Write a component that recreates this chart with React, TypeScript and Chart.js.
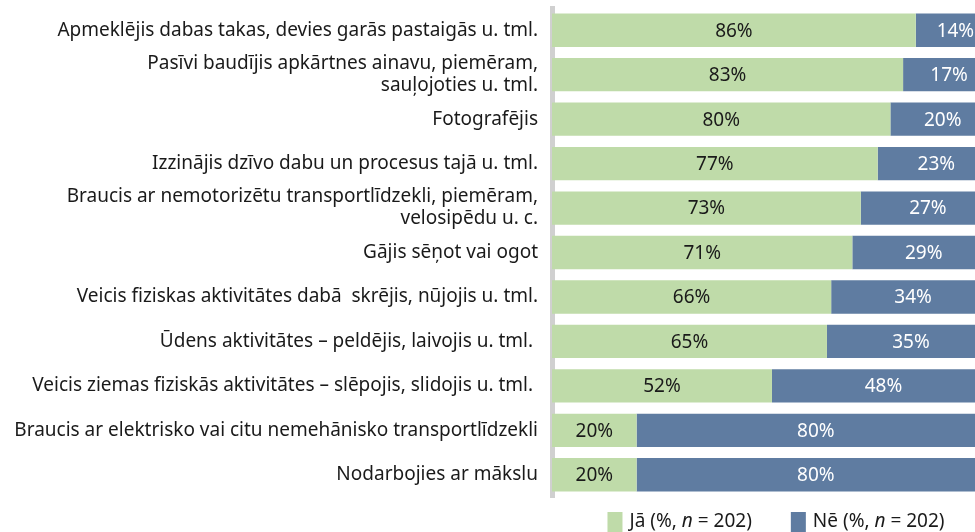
import React, { useEffect, useRef } from "react";
import { Chart, registerables } from "chart.js";

Chart.register(...registerables);

const categories: (string | string[])[] = [
  "Apmeklējis dabas takas, devies garās pastaigās u. tml.",
  ["Pasīvi baudījis apkārtnes ainavu, piemēram,", "sauļojoties u. tml."],
  "Fotografējis",
  "Izzinājis dzīvo dabu un procesus tajā u. tml.",
  ["Braucis ar nemotorizētu transportlīdzekli, piemēram,", "velosipēdu u. c."],
  "Gājis sēņot vai ogot",
  "Veicis fiziskas aktivitātes dabā  skrējis, nūjojis u. tml.",
  "Ūdens aktivitātes – peldējis, laivojis u. tml. ",
  "Veicis ziemas fiziskās aktivitātes – slēpojis, slidojis u. tml. ",
  "Braucis ar elektrisko vai citu nemehānisko transportlīdzekli",
  "Nodarbojies ar mākslu",
];

const jaValues = [86, 83, 80, 77, 73, 71, 66, 65, 52, 20, 20];
const neValues = [14, 17, 20, 23, 27, 29, 34, 35, 48, 80, 80];

const seriesNames = ["Jā", "Nē"];
const legendSuffix = " (%, ";
const legendN = "n";
const legendTail = " = 202)";

const GREEN = "#bfdba9";
const BLUE = "#5f7ca1";
const FONT = "'Noto Sans', sans-serif";

const valueLabels = {
  id: "valueLabels",
  afterDatasetsDraw(chart: any) {
    const ctx = chart.ctx;
    ctx.save();
    ctx.font = `19px ${FONT}`;
    ctx.textAlign = "center";
    ctx.textBaseline = "middle";
    chart.data.datasets.forEach((ds: any, di: number) => {
      const meta = chart.getDatasetMeta(di);
      meta.data.forEach((el: any, i: number) => {
        const v = ds.data[i];
        const cx = (el.x + el.base) / 2 + (di === 1 ? 10 : 0);
        ctx.fillStyle = di === 0 ? "#1a1a1a" : "#ffffff";
        ctx.fillText(`${v}%`, cx, el.y + 1);
      });
    });
    ctx.restore();
  },
};

const customLegend = {
  id: "customLegend",
  afterDraw(chart: any) {
    const ctx = chart.ctx;
    const colors = [GREEN, BLUE];
    const box = 15;
    const boxH = 20;
    const gapBoxText = 7;
    const gapItems = 39;
    const y = chart.height - 10;
    const normal = `19px ${FONT}`;
    const italic = `italic 19px ${FONT}`;
    ctx.save();
    ctx.textBaseline = "middle";
    ctx.textAlign = "left";
    const widths = seriesNames.map((name) => {
      ctx.font = normal;
      const a = ctx.measureText(name + legendSuffix).width;
      const c = ctx.measureText(legendTail).width;
      ctx.font = italic;
      const b = ctx.measureText(legendN).width;
      return { a, b, c, total: box + gapBoxText + a + b + c };
    });
    const totalW = widths.reduce((s, w) => s + w.total, 0) + gapItems;
    const center = chart.chartArea.left + 224;
    let x = center - totalW / 2;
    seriesNames.forEach((name, i) => {
      const w = widths[i];
      ctx.fillStyle = colors[i];
      ctx.fillRect(x, y - boxH / 2, box, boxH);
      let tx = x + box + gapBoxText;
      ctx.fillStyle = "#1a1a1a";
      ctx.font = normal;
      ctx.fillText(name + legendSuffix, tx, y);
      tx += w.a;
      ctx.font = italic;
      ctx.fillText(legendN, tx, y);
      tx += w.b;
      ctx.font = normal;
      ctx.fillText(legendTail, tx, y);
      x += w.total + gapItems;
    });
    ctx.restore();
  },
};

export default function App() {
  const ref = useRef<HTMLCanvasElement | null>(null);

  useEffect(() => {
    if (!ref.current) return;
    const chart = new Chart(ref.current, {
      type: "bar",
      data: {
        labels: categories,
        datasets: [
          {
            label: seriesNames[0],
            data: jaValues,
            backgroundColor: GREEN,
            barPercentage: 0.75,
            categoryPercentage: 1,
          },
          {
            label: seriesNames[1],
            data: neValues,
            backgroundColor: BLUE,
            barPercentage: 0.75,
            categoryPercentage: 1,
          },
        ],
      },
      options: {
        indexAxis: "y",
        animation: false,
        responsive: false,
        maintainAspectRatio: false,
        layout: { padding: { top: 8, bottom: 35, left: 0, right: 0 } },
        plugins: {
          legend: { display: false },
          tooltip: { enabled: false },
        },
        scales: {
          x: {
            stacked: true,
            min: 0,
            max: 100,
            display: false,
          },
          y: {
            stacked: true,
            grid: { display: false, drawTicks: false },
            border: { display: true, color: "#d0d0d0", width: 5 },
            ticks: {
              color: "#1a1a1a",
              font: { family: FONT, size: 19, lineHeight: 1.16 },
              padding: 14,
              autoSkip: false,
            },
            afterFit(scale: any) {
              scale.width = 552;
              scale.paddingTop = 0;
              scale.paddingBottom = 0;
            },
          },
        },
      },
      plugins: [valueLabels, customLegend],
    });
    return () => chart.destroy();
  }, []);

  return (
    <div style={{ position: "fixed", left: 0, top: 0, width: 975, height: 532, background: "#fff" }}>
      <canvas ref={ref} width={975} height={532} style={{ width: 975, height: 532, display: "block" }} />
    </div>
  );
}
